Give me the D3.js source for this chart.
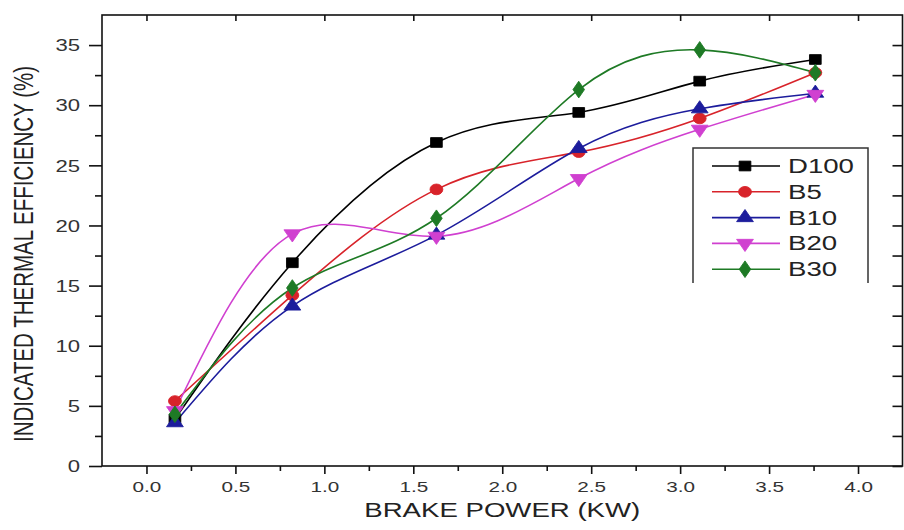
<!DOCTYPE html>
<html><head><meta charset="utf-8">
<script src="https://cdn.jsdelivr.net/npm/d3@7"></script>
<style>
html,body{margin:0;padding:0;background:#fff;}
svg{display:block;}
text{font-family:"Liberation Sans",Arial,sans-serif;}
</style></head>
<body>
<svg id="chart" width="904" height="530"></svg>
<script>
// ---- data ----
const brakePower = [0.16, 0.82, 1.63, 2.43, 3.11, 3.76];
const D100 = [3.9, 16.9, 26.9, 29.4, 32.0, 33.8];
const B5   = [5.4, 14.2, 23.0, 26.1, 28.9, 32.7];
const B10  = [3.6, 13.3, 19.2, 26.4, 29.7, 31.0];
const B20  = [4.6, 19.3, 19.1, 23.9, 28.0, 30.9];
const B30  = [4.3, 14.8, 20.6, 31.3, 34.6, 32.7];
const seriesNames = ["D100", "B5", "B10", "B20", "B30"];
const xTicks = [0.0, 0.5, 1.0, 1.5, 2.0, 2.5, 3.0, 3.5, 4.0];
const yTicks = [0, 5, 10, 15, 20, 25, 30, 35];
const xTitle = "BRAKE POWER (KW)";
const yTitle = "INDICATED THERMAL EFFICIENCY (%)";

const seriesData = {D100, B5, B10, B20, B30};
const colors = {D100:"#000000", B5:"#d8232a", B10:"#1c1c9c", B20:"#d040d0", B30:"#1e7a25"};
const symbols = {
  D100:{type:d3.symbolSquare,size:95,rot:0},
  B5:{type:d3.symbolCircle,size:90,rot:0},
  B10:{type:d3.symbolTriangle,size:85,rot:0},
  B20:{type:d3.symbolTriangle,size:85,rot:180},
  B30:{type:d3.symbolDiamond,size:80,rot:0}
};
const SX = 1.38; // horizontal stretch of text

const svg = d3.select("#chart");
const L = 102, R = 902.5, T = 15, B = 466;
const x = d3.scaleLinear().domain([-0.25, 4.25]).range([L, R]);
const y = d3.scaleLinear().domain([0, 37.5]).range([B, T]);

const xMinor = d3.range(0.25, 4.25, 0.5);
const yMinor = d3.range(2.5, 37.5, 5);

// frame
svg.append("rect").attr("x",L).attr("y",T).attr("width",R-L).attr("height",B-T)
  .attr("fill","none").attr("stroke","#111").attr("stroke-width",1.6);

function styleAxis(g){
  g.select(".domain").remove();
  g.selectAll(".tick line").attr("stroke","#111").attr("stroke-width",1.6);
}

// bottom axis
const gx = svg.append("g").attr("transform",`translate(0,${B})`)
  .call(d3.axisBottom(x).tickValues(xTicks).tickSize(8).tickSizeOuter(0).tickFormat(d3.format(".1f")));
styleAxis(gx);
gx.selectAll(".tick text").attr("fill","#333").attr("font-size",15)
  .attr("y",0).attr("dy",0)
  .attr("transform",`translate(0,26) scale(${SX},1)`);
const gxm = svg.append("g").attr("transform",`translate(0,${B})`)
  .call(d3.axisBottom(x).tickValues(xMinor).tickSize(5).tickFormat(""));
styleAxis(gxm);

// top axis (inward)
const gt = svg.append("g").attr("transform",`translate(0,${T})`)
  .call(d3.axisBottom(x).tickValues(xTicks).tickSize(6).tickFormat(""));
styleAxis(gt);

// left axis
const gy = svg.append("g").attr("transform",`translate(${L},0)`)
  .call(d3.axisLeft(y).tickValues(yTicks).tickSize(13).tickSizeOuter(0).tickFormat(d3.format("d")));
styleAxis(gy);
gy.selectAll(".tick text").attr("fill","#333").attr("font-size",16)
  .attr("x",0).attr("dy","0.36em").attr("text-anchor","end")
  .attr("transform",`translate(-22,0) scale(${SX},1)`);
const gym = svg.append("g").attr("transform",`translate(${L},0)`)
  .call(d3.axisLeft(y).tickValues(yMinor).tickSize(7).tickFormat(""));
styleAxis(gym);

// right axis (inward)
const gr = svg.append("g").attr("transform",`translate(${R},0)`)
  .call(d3.axisLeft(y).tickValues(yTicks.concat(yMinor)).tickSize(10).tickFormat(""));
styleAxis(gr);

// titles
svg.append("text").attr("transform",`translate(${(L+R)/2},517) scale(${SX},1)`)
  .attr("text-anchor","middle").attr("font-size",20).attr("fill","#222").text(xTitle);
svg.append("text").attr("transform",`translate(33,254) scale(${SX},1) rotate(-90)`)
  .attr("text-anchor","middle").attr("font-size",20.5).attr("fill","#222").text(yTitle);

// series
const line = d3.line().x(d=>x(d[0])).y(d=>y(d[1])).curve(d3.curveNatural);
const plot = svg.append("g");
seriesNames.forEach(name=>{
  const pts = brakePower.map((bp,i)=>[bp, seriesData[name][i]]);
  plot.append("path").datum(pts).attr("d",line).attr("fill","none")
    .attr("stroke",colors[name]).attr("stroke-width",1.6);
});
seriesNames.forEach(name=>{
  const pts = brakePower.map((bp,i)=>[bp, seriesData[name][i]]);
  const s = symbols[name];
  plot.selectAll(null).data(pts).enter().append("path")
    .attr("d",d3.symbol().type(s.type).size(s.size))
    .attr("transform",d=>`translate(${x(d[0])},${y(d[1])}) scale(1.2,1) rotate(${s.rot})`)
    .attr("fill",colors[name]).attr("stroke",colors[name]).attr("stroke-width",0.8);
});

// legend
const lg = svg.append("g");
const lgL = 693, lgT = 148, lgR = 868, lgB = 283;
lg.append("path").attr("d",`M${lgL},${lgB}V${lgT}H${lgR}V${lgB}`)
  .attr("fill","#fff").attr("stroke","#333").attr("stroke-width",1.5);
seriesNames.forEach((name,i)=>{
  const yy = 166 + i*25.8;
  lg.append("line").attr("x1",712).attr("x2",780).attr("y1",yy).attr("y2",yy)
    .attr("stroke",colors[name]).attr("stroke-width",1.6);
  const s = symbols[name];
  lg.append("path").attr("d",d3.symbol().type(s.type).size(s.size))
    .attr("transform",`translate(745,${yy}) scale(1.2,1) rotate(${s.rot})`)
    .attr("fill",colors[name]).attr("stroke",colors[name]).attr("stroke-width",0.8);
  lg.append("text").attr("transform",`translate(788,${yy+7}) scale(${SX},1)`)
    .attr("font-size",20).attr("fill","#222").text(name);
});
</script>
</body></html>
